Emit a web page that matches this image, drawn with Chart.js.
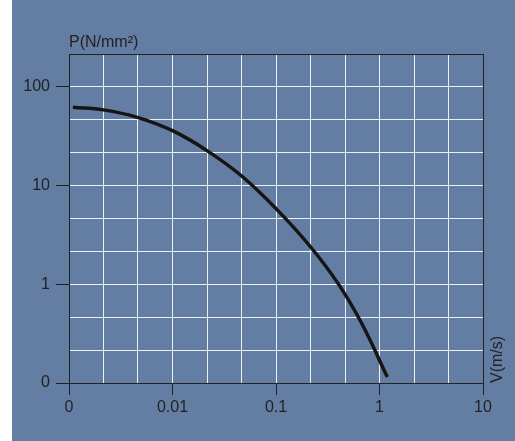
<!DOCTYPE html>
<html>
<head>
<meta charset="utf-8">
<script src="https://cdn.jsdelivr.net/npm/chart.js@4/dist/chart.umd.min.js"></script>
<style>
  body { margin: 0; background: #fff; }
  #wrap { position: absolute; left: 12px; top: 0; width: 503px; height: 441px; background: #647da3; }
</style>
</head>
<body>
<div id="wrap"><canvas id="chart" width="503" height="441"></canvas></div>
<script>
// curve (V in m/s, P in N/mm2)
var speed = [0.00109, 0.00214, 0.00457, 0.01, 0.0217, 0.0466, 0.1016, 0.2131, 0.400, 0.678, 1.19];
var pressure = [62.2, 58.5, 49.2, 36.0, 22.5, 12.5, 5.74, 2.43, 1.01, 0.396, 0.115];

var xDecades = [0.001, 0.01, 0.1, 1, 10];
var xTickLabels = ['0', '0.01', '0.1', '1', '10'];
var yDecades = [0.1, 1, 10, 100];
var yTickLabels = ['0', '1', '10', '100'];

var xMin = 0.001, xMax = 10;
var yMin = 0.1, yMax = Math.pow(10, 7 / 3);

var points = speed.map(function (v, i) { return { x: v, y: pressure[i] }; });

// grid every third of a decade
function thirds(min, max) {
    var out = [];
    var a = Math.round(Math.log10(min) * 3), b = Math.round(Math.log10(max) * 3);
    for (var k = a; k <= b; k++) out.push({ value: Math.pow(10, k / 3) });
    return out;
}
function decadeIndex(list, v) {
    for (var i = 0; i < list.length; i++) {
        if (Math.abs(Math.log10(list[i]) - Math.log10(v)) < 1e-6) return i;
    }
    return -1;
}

var dark = '#222';
var gridWhite = 'rgba(255,255,255,0.88)';

var textPlugin = {
    id: 'axisTexts',
    afterDraw: function (chart) {
        var c = chart.ctx;
        c.save();
        c.fillStyle = dark;
        c.font = '16px "Liberation Sans", Arial, sans-serif';
        c.textBaseline = 'alphabetic';
        c.textAlign = 'left';
        c.fillText('P(N/mm²)', chart.chartArea.left, 47);
        c.translate(chart.chartArea.right + 15, chart.chartArea.bottom);
        c.rotate(-Math.PI / 2);
        c.textBaseline = 'middle';
        c.fillText('V(m/s)', 0, 0);
        c.restore();
    }
};

var ctx = document.getElementById('chart').getContext('2d');
var myChart = new Chart(ctx, {
    type: 'scatter',
    data: {
        datasets: [{
            label: 'P',
            data: points,
            showLine: true,
            borderColor: '#151515',
            borderWidth: 3.5,
            pointRadius: 0,
            tension: 0.4
        }]
    },
    options: {
        responsive: false,
        animation: false,
        layout: { padding: { left: 0, top: 54, right: 32, bottom: 0 } },
        plugins: { legend: { display: false }, tooltip: { enabled: false } },
        scales: {
            x: {
                type: 'logarithmic',
                min: xMin,
                max: xMax,
                afterBuildTicks: function (s) { s.ticks = thirds(xMin, xMax); },
                afterFit: function (s) { s.height = 58; },
                border: { color: dark, width: 1 },
                grid: {
                    color: function (c) { return c.tick && Math.abs(c.tick.value - xMax) < 1e-9 ? dark : gridWhite; },
                    tickColor: function (c) { return c.tick && decadeIndex(xDecades, c.tick.value) >= 0 ? dark : 'rgba(0,0,0,0)'; },
                    tickLength: 12,
                    lineWidth: 1
                },
                ticks: {
                    autoSkip: false,
                    maxRotation: 0,
                    padding: 3,
                    color: dark,
                    font: { family: '"Liberation Sans", Arial, sans-serif', size: 16 },
                    callback: function (v) {
                        var i = decadeIndex(xDecades, v);
                        return i >= 0 ? xTickLabels[i] : '';
                    }
                }
            },
            y: {
                type: 'logarithmic',
                min: yMin,
                max: yMax,
                afterBuildTicks: function (s) { s.ticks = thirds(yMin, yMax); },
                afterFit: function (s) { s.width = 57; },
                border: { color: dark, width: 1 },
                grid: {
                    color: function (c) { return c.tick && Math.abs(c.tick.value - yMax) < 1e-6 ? dark : gridWhite; },
                    tickColor: function (c) { return c.tick && decadeIndex(yDecades, c.tick.value) >= 0 ? dark : 'rgba(0,0,0,0)'; },
                    tickLength: 13,
                    lineWidth: 1
                },
                ticks: {
                    autoSkip: false,
                    padding: 6,
                    color: dark,
                    font: { family: '"Liberation Sans", Arial, sans-serif', size: 16 },
                    callback: function (v) {
                        var i = decadeIndex(yDecades, v);
                        return i >= 0 ? yTickLabels[i] : '';
                    }
                }
            }
        }
    },
    plugins: [textPlugin]
});
</script>
</body>
</html>
